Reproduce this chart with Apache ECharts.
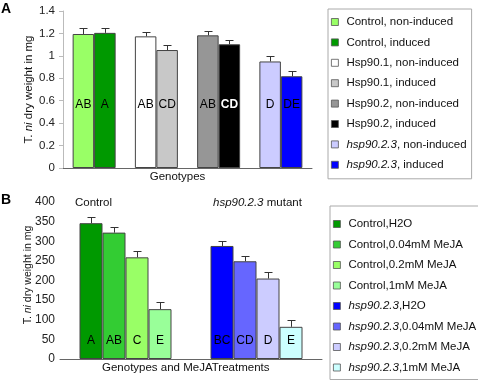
<!DOCTYPE html>
<html>
<head>
<meta charset="utf-8">
<script src="https://cdn.jsdelivr.net/npm/echarts@6/dist/echarts.min.js"></script>
<style>
  html, body { margin: 0; padding: 0; background: #fff; }
  #main { width: 478px; height: 382px; }
</style>
</head>
<body>
<div id="main"></div>
<script>
// panel A data
var catsA = ['Control', 'Hsp90.1', 'Hsp90.2', 'hsp90.2.3'];
var namesA = ['Control, non-induced', 'Control, induced',
    'Hsp90.1, non-induced', 'Hsp90.1, induced',
    'Hsp90.2, non-induced', 'Hsp90.2, induced',
    'hsp90.2.3, non-induced', 'hsp90.2.3, induced'];
var colorsA = ['#99ff66', '#009900', '#ffffff', '#c8c8c8', '#969696', '#000000', '#ccccff', '#0000ff'];
var nonInduced = [1.195, 1.174, 1.183, 0.95];
var induced = [1.205, 1.052, 1.103, 0.818];
var nonInducedErr = [0.05, 0.04, 0.036, 0.05];
var inducedErr = [0.04, 0.042, 0.041, 0.047];
var lettersNon = ['AB', 'AB', 'AB', 'D'];
var lettersInd = ['A', 'CD', 'CD', 'DE'];

// panel B data
var catsB = ['Control', 'hsp90.2.3'];
var namesB = ['Control,H2O', 'Control,0.04mM MeJA', 'Control,0.2mM MeJA', 'Control,1mM MeJA',
    'hsp90.2.3,H2O', 'hsp90.2.3,0.04mM MeJA', 'hsp90.2.3,0.2mM MeJA', 'hsp90.2.3,1mM MeJA'];
var colorsB = ['#009900', '#33cc33', '#99ff66', '#99ff99', '#0000ff', '#6666ff', '#ccccff', '#ccffff'];
var controlMeja = [346, 322, 259, 127];
var controlMejaErr = [15, 15, 16, 18];
var mutantMeja = [288, 249, 205, 82];
var mutantMejaErr = [12, 14, 16, 18];
var lettersControl = ['A', 'AB', 'C', 'E'];
var lettersMutant = ['BC', 'CD', 'D', 'E'];

var FONT = 'Liberation Sans, Arial, sans-serif';
var BAR_A = 21.5, BAR_B = 23;

var main = document.getElementById('main');
var myChart = echarts.init(main);

function legendFmt(name) {
    if (name.indexOf('hsp90.2.3') === 0) {
        return '{i|hsp90.2.3}{n|' + name.slice(9) + '}';
    }
    return '{n|' + name + '}';
}
var legendRich = {
    i: { fontStyle: 'italic', fontSize: 11.5, fontFamily: FONT, color: '#111', lineHeight: 14 },
    n: { fontSize: 11.5, fontFamily: FONT, color: '#111', lineHeight: 14 }
};

// error bar: vertical line from top of bar plus cap
function errBar(offset) {
    return function (params, api) {
        var c = api.value(0), v = api.value(1), e = api.value(2);
        var base = api.coord([c, v]);
        var top = api.coord([c, v + e]);
        var x = Math.round(base[0] + offset) + 0.5;
        var yt = Math.round(top[1]) + 0.5;
        return {
            type: 'group',
            children: [
                { type: 'line', shape: { x1: x, y1: base[1], x2: x, y2: yt }, style: { stroke: '#333', lineWidth: 1 } },
                { type: 'line', shape: { x1: x - 4, y1: yt, x2: x + 4, y2: yt }, style: { stroke: '#333', lineWidth: 1 } }
            ]
        };
    };
}

var series = [];

// panel A bars: two stacks (non-induced / induced), one series per legend entry
catsA.forEach(function (cat, i) {
    [0, 1].forEach(function (k) {
        var idx = i * 2 + k;
        var data = catsA.map(function (c, j) {
            return j === i ? (k === 0 ? nonInduced[j] : induced[j]) : '-';
        });
        var white = idx === 5;
        series.push({
            name: namesA[idx],
            type: 'bar',
            xAxisIndex: 0, yAxisIndex: 0,
            stack: k === 0 ? 'non' : 'ind',
            barWidth: BAR_A,
            barGap: '0%',
            itemStyle: { color: colorsA[idx], borderColor: '#444', borderWidth: 1 },
            label: {
                show: true,
                position: 'insideBottom',
                distance: 57,
                formatter: k === 0 ? lettersNon[i] : lettersInd[i],
                fontSize: 12,
                fontFamily: FONT,
                color: white ? '#fff' : '#000',
                fontWeight: white ? 'bold' : 'normal'
            },
            silent: true,
            data: data
        });
    });
});
series.push({
    type: 'custom', xAxisIndex: 0, yAxisIndex: 0, silent: true, z: 5,
    renderItem: errBar(-BAR_A / 2),
    encode: { x: 0, y: 1 },
    data: nonInduced.map(function (v, i) { return [i, v, nonInducedErr[i]]; })
});
series.push({
    type: 'custom', xAxisIndex: 0, yAxisIndex: 0, silent: true, z: 5,
    renderItem: errBar(BAR_A / 2),
    encode: { x: 0, y: 1 },
    data: induced.map(function (v, i) { return [i, v, inducedErr[i]]; })
});

// panel B bars: four stacks (one per treatment)
namesB.forEach(function (name, idx) {
    var g = idx < 4 ? 0 : 1, k = idx % 4;
    var vals = g === 0 ? controlMeja : mutantMeja;
    var letters = g === 0 ? lettersControl : lettersMutant;
    series.push({
        name: name,
        type: 'bar',
        xAxisIndex: 1, yAxisIndex: 1,
        stack: 'b' + k,
        barWidth: BAR_B,
        barGap: '0%',
        itemStyle: { color: colorsB[idx], borderColor: '#444', borderWidth: 1 },
        label: {
            show: true,
            position: 'insideBottom',
            distance: 12,
            formatter: letters[k],
            fontSize: 12,
            fontFamily: FONT,
            color: '#000'
        },
        silent: true,
        data: catsB.map(function (c, j) { return j === g ? vals[k] : '-'; })
    });
});
[0, 1, 2, 3].forEach(function (k) {
    series.push({
        type: 'custom', xAxisIndex: 1, yAxisIndex: 1, silent: true, z: 5,
        renderItem: errBar((k - 1.5) * BAR_B),
        encode: { x: 0, y: 1 },
        data: [[0, controlMeja[k], controlMejaErr[k]], [1, mutantMeja[k], mutantMejaErr[k]]]
    });
});

var option = {
    animation: false,
    backgroundColor: '#fff',
    textStyle: { fontFamily: FONT },
    grid: [
        { left: 63, top: 11, width: 249, height: 157 },
        { left: 60, top: 202, width: 262, height: 157 }
    ],
    xAxis: [
        {
            gridIndex: 0, type: 'category', data: catsA,
            axisLine: { lineStyle: { color: '#666', width: 1 } },
            axisTick: { show: false }, axisLabel: { show: false }
        },
        {
            gridIndex: 1, type: 'category', data: catsB,
            axisLine: { lineStyle: { color: '#666', width: 1 } },
            axisTick: { show: false }, axisLabel: { show: false }
        }
    ],
    yAxis: [
        {
            gridIndex: 0, type: 'value', min: 0, max: 1.4, interval: 0.2,
            axisLine: { show: true, lineStyle: { color: '#bbb' } },
            axisTick: { show: true, length: 4, lineStyle: { color: '#bbb' } },
            splitLine: { show: false },
            axisLabel: { fontSize: 11.5, color: '#222', margin: 8, fontFamily: FONT }
        },
        {
            gridIndex: 1, type: 'value', min: 0, max: 400, interval: 50,
            axisLine: { show: false },
            axisTick: { show: false },
            splitLine: { show: false },
            axisLabel: { fontSize: 12, color: '#222', margin: 5, fontFamily: FONT }
        }
    ],
    legend: [
        {
            data: namesA, orient: 'vertical', left: 328, top: 9,
            icon: 'rect', itemWidth: 7, itemHeight: 7, itemGap: 6.4,
            padding: [6, 5, 7, 3],
            borderColor: '#aaa', borderWidth: 1,
            selectedMode: false,
            itemStyle: { borderColor: '#555', borderWidth: 0.8 },
            formatter: legendFmt,
            textStyle: { fontSize: 11.5, fontFamily: FONT, color: '#111', lineHeight: 14, padding: [0, 0, 0, 3], rich: legendRich }
        },
        {
            data: namesB, orient: 'vertical', left: 330, top: 206,
            icon: 'rect', itemWidth: 7, itemHeight: 7, itemGap: 6.5,
            padding: [11, 4, 5, 3],
            borderColor: '#aaa', borderWidth: 1,
            selectedMode: false,
            itemStyle: { borderColor: '#555', borderWidth: 0.8 },
            formatter: legendFmt,
            textStyle: { fontSize: 11.5, fontFamily: FONT, color: '#111', lineHeight: 14, padding: [0, 0, 0, 3], rich: legendRich }
        }
    ],
    graphic: [
        { type: 'text', x: 1, y: 2, style: { text: 'A', font: 'bold 14px ' + FONT, fill: '#000' } },
        { type: 'text', x: 1, y: 193, style: { text: 'B', font: 'bold 14px ' + FONT, fill: '#000' } },
        {
            type: 'text', x: 29, y: 89.5, rotation: Math.PI / 2,
            style: {
                text: '{a|T. }{b|ni}{a| dry weight in mg}', align: 'center', verticalAlign: 'middle',
                rich: {
                    a: { fontSize: 11.5, fontFamily: FONT, fill: '#111' },
                    b: { fontSize: 11.5, fontFamily: FONT, fontStyle: 'italic', fill: '#111' }
                }
            }
        },
        {
            type: 'text', x: 28, y: 275, rotation: Math.PI / 2,
            style: {
                text: '{a|T. }{b|ni}{a| dry weight in mg}', align: 'center', verticalAlign: 'middle',
                rich: {
                    a: { fontSize: 10.5, fontFamily: FONT, fill: '#111' },
                    b: { fontSize: 10.5, fontFamily: FONT, fontStyle: 'italic', fill: '#111' }
                }
            }
        },
        { type: 'text', x: 177.5, y: 177, style: { text: 'Genotypes', font: '11.5px ' + FONT, fill: '#111', align: 'center', verticalAlign: 'middle' } },
        { type: 'text', x: 102, y: 368, style: { text: 'Genotypes and MeJATreatments', font: '11.5px ' + FONT, fill: '#111', align: 'left', verticalAlign: 'middle' } },
        { type: 'text', x: 75, y: 203, style: { text: 'Control', font: '11.5px ' + FONT, fill: '#111', align: 'left', verticalAlign: 'middle' } },
        {
            type: 'text', x: 213, y: 203,
            style: {
                text: '{b|hsp90.2.3}{a| mutant}', align: 'left', verticalAlign: 'middle',
                rich: {
                    a: { fontSize: 11.5, fontFamily: FONT, fill: '#111' },
                    b: { fontSize: 11.5, fontFamily: FONT, fontStyle: 'italic', fill: '#111' }
                }
            }
        }
    ],
    series: series
};

myChart.setOption(option);
window.onresize = function () {
    myChart.resize();
};
</script>
</body>
</html>
